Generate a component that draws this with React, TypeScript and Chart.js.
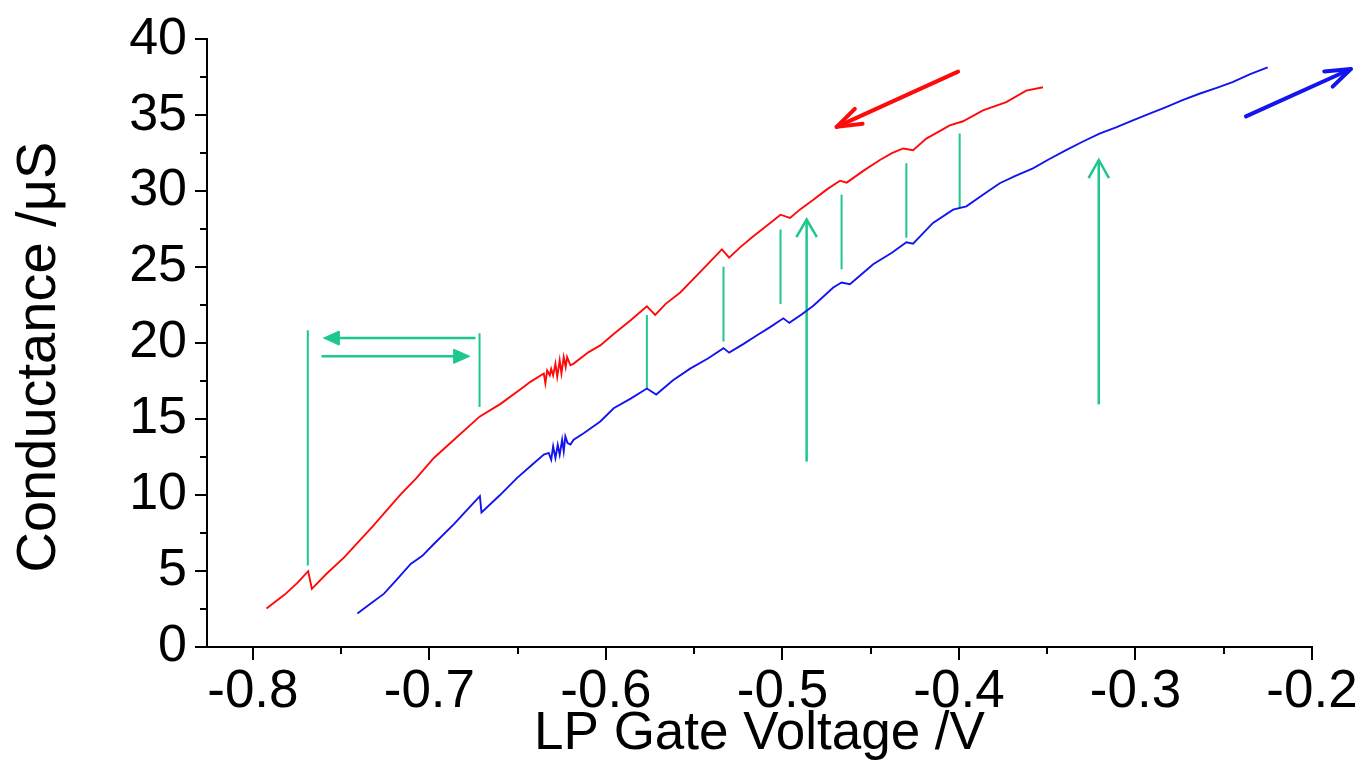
import React, { useEffect, useRef } from "react";
import { Chart, registerables } from "chart.js";
Chart.register(...registerables);

// ---- axis ranges / ticks ----
const xMin = -0.826;
const xMax = -0.2;
const yMin = 0;
const yMax = 40;
const xMinorTicks = [-0.75, -0.65, -0.55, -0.45, -0.35, -0.25];
const yMinorTicks = [2.5, 7.5, 12.5, 17.5, 22.5, 27.5, 32.5, 37.5];

// ---- red sweep (decreasing gate voltage) ----
const redV = [
  -0.7923, -0.782, -0.7745, -0.7687, -0.7666, -0.758, -0.7483, -0.732, -0.7163, -0.7075,
  -0.6975, -0.685, -0.6716, -0.6597, -0.648, -0.6428, -0.6352, -0.6343, -0.6333, -0.6318,
  -0.631, -0.6299, -0.6286, -0.6276, -0.6262, -0.6252, -0.6239, -0.6228, -0.622, -0.6201,
  -0.6183, -0.6098, -0.6032, -0.5956, -0.586, -0.5768, -0.5721, -0.566, -0.5579, -0.546,
  -0.5343, -0.5302, -0.524, -0.5165, -0.508, -0.5011, -0.4957, -0.49, -0.4825, -0.475,
  -0.4674, -0.4636, -0.454, -0.4448, -0.438, -0.4316, -0.426, -0.4185, -0.4052, -0.3977,
  -0.3864, -0.3732, -0.3619, -0.3524,
];
const redG = [
  2.53, 3.45, 4.25, 4.99, 3.83, 4.85, 5.9, 7.95, 10.04, 11.1,
  12.44, 13.75, 15.16, 16.0, 17.0, 17.45, 18.0, 17.35, 18.2, 17.88,
  18.3, 17.88, 18.65, 17.78, 18.87, 18.0, 19.08, 18.43, 19.08, 18.54,
  18.65, 19.41, 19.85, 20.6, 21.5, 22.42, 21.85, 22.6, 23.33, 24.75,
  26.17, 25.62, 26.3, 27.03, 27.8, 28.45, 28.24, 28.8, 29.43, 30.1,
  30.69, 30.56, 31.35, 32.05, 32.5, 32.81, 32.7, 33.46, 34.33, 34.6,
  35.31, 35.86, 36.62, 36.84,
];

// ---- blue sweep (increasing gate voltage) ----
const blueV = [
  -0.7408, -0.734, -0.7257, -0.718, -0.7106, -0.704, -0.6975, -0.6861, -0.678, -0.6714,
  -0.6705, -0.66, -0.6503, -0.6428, -0.6352, -0.6324, -0.631, -0.6299, -0.6286, -0.6273,
  -0.6262, -0.6248, -0.6239, -0.623, -0.6217, -0.6201, -0.6183, -0.6126, -0.6032, -0.5956,
  -0.586, -0.5768, -0.5715, -0.562, -0.5523, -0.542, -0.5334, -0.5302, -0.522, -0.5146,
  -0.507, -0.4995, -0.4961, -0.489, -0.4825, -0.4712, -0.4665, -0.4618, -0.455, -0.4486,
  -0.438, -0.4298, -0.426, -0.4147, -0.4033, -0.3958, -0.386, -0.3769, -0.368, -0.3581,
  -0.349, -0.3393, -0.33, -0.3204, -0.311, -0.3015, -0.292, -0.2827, -0.273, -0.2638,
  -0.254, -0.245, -0.235, -0.2251,
];
const blueG = [
  2.2, 2.8, 3.51, 4.5, 5.47, 6.0, 6.78, 8.09, 9.1, 9.93,
  8.85, 10.0, 11.13, 11.9, 12.66, 12.77, 12.33, 13.2, 12.44, 13.3,
  12.66, 13.64, 12.88, 13.86, 13.42, 13.32, 13.64, 14.07, 14.84, 15.71,
  16.35, 17.01, 16.62, 17.55, 18.32, 19.0, 19.67, 19.37, 19.95, 20.5,
  21.05, 21.63, 21.33, 21.9, 22.46, 23.66, 23.99, 23.88, 24.55, 25.19,
  25.95, 26.64, 26.54, 27.91, 28.78, 29.0, 29.8, 30.52, 31.0, 31.5,
  32.1, 32.7, 33.25, 33.79, 34.2, 34.66, 35.1, 35.53, 36.0, 36.41,
  36.8, 37.17, 37.7, 38.15,
];

// ---- green vertical markers ----
const markerV = [-0.7689, -0.6716, -0.5768, -0.5334, -0.5011, -0.4665, -0.4298, -0.3996];
const markerTop = [20.85, 20.65, 21.85, 25.03, 27.47, 29.76, 31.83, 33.79];
const markerBottom = [5.36, 15.8, 17.01, 20.11, 22.57, 24.86, 26.93, 28.89];

// ---- green horizontal arrows (filled heads) ----
const hArrowFromV = [-0.6739, -0.7611];
const hArrowToV = [-0.76, -0.6771];
const hArrowG = [20.33, 19.13];
const hArrowBaseV = [-0.7512, -0.6861];
const hArrowHalf = [0.46, 0.46];

// ---- green upward arrows (open heads) ----
const upArrowV = [-0.4863, -0.3208];
const upArrowFrom = [12.2, 15.97];
const upArrowTo = [28.13, 32.05];
const upArrowWingDV = [0.0058, 0.0058];
const upArrowWingDG = [1.16, 1.2];

// ---- sweep direction arrows ----
const redArrowV = [-0.4005, -0.4693];
const redArrowG = [37.87, 34.23];
const redArrowWingV = [-0.459, -0.4546];
const redArrowWingG = [35.42, 34.44];
const blueArrowV = [-0.2374, -0.178];
const blueArrowG = [34.92, 38.04];
const blueArrowWingV = [-0.1931, -0.1883];
const blueArrowWingG = [37.88, 36.88];

const GREEN = "rgb(30,200,140)";
const RED = "#ff0a0a";
const BLUE = "#1414ee";

const zip = (xs: number[], ys: number[]) => xs.map((x, i) => ({ x, y: ys[i] }));

const seg = (pts: { x: number; y: number }[], color: string, width: number, extra: any = {}) => ({
  data: pts,
  borderColor: color,
  backgroundColor: color,
  borderWidth: width,
  pointRadius: 0,
  tension: 0,
  fill: false,
  clip: false,
  ...extra,
});

const minorTicksPlugin = {
  id: "minorTicks",
  afterDraw(chart: any) {
    const { ctx, scales, chartArea } = chart;
    const x = scales.x;
    const y = scales.y;
    ctx.save();
    ctx.strokeStyle = "#000";
    ctx.lineWidth = 2;
    xMinorTicks.forEach((v) => {
      const px = Math.round(x.getPixelForValue(v));
      ctx.beginPath();
      ctx.moveTo(px, chartArea.bottom);
      ctx.lineTo(px, chartArea.bottom + 7);
      ctx.stroke();
    });
    yMinorTicks.forEach((v) => {
      const py = Math.round(y.getPixelForValue(v));
      ctx.beginPath();
      ctx.moveTo(chartArea.left, py);
      ctx.lineTo(chartArea.left - 7, py);
      ctx.stroke();
    });
    ctx.restore();
  },
};

export default function App() {
  const ref = useRef<HTMLCanvasElement | null>(null);

  useEffect(() => {
    if (!ref.current) return;
    const datasets: any[] = [];

    datasets.push(seg(zip(redV, redG), RED, 1.9));
    datasets.push(seg(zip(blueV, blueG), BLUE, 1.9));

    markerV.forEach((v, i) => {
      datasets.push(seg([{ x: v, y: markerTop[i] }, { x: v, y: markerBottom[i] }], GREEN, 2));
    });

    hArrowFromV.forEach((v, i) => {
      datasets.push(seg([{ x: v, y: hArrowG[i] }, { x: hArrowBaseV[i], y: hArrowG[i] }], GREEN, 2.5));
      datasets.push(
        seg(
          [
            { x: hArrowToV[i], y: hArrowG[i] },
            { x: hArrowBaseV[i], y: hArrowG[i] + hArrowHalf[i] },
            { x: hArrowBaseV[i], y: hArrowG[i] - hArrowHalf[i] },
            { x: hArrowToV[i], y: hArrowG[i] },
          ],
          GREEN,
          1,
          { fill: "shape" }
        )
      );
    });

    upArrowV.forEach((v, i) => {
      datasets.push(seg([{ x: v, y: upArrowFrom[i] }, { x: v, y: upArrowTo[i] }], GREEN, 2.5));
      datasets.push(
        seg(
          [
            { x: v - upArrowWingDV[i], y: upArrowTo[i] - upArrowWingDG[i] },
            { x: v, y: upArrowTo[i] },
            { x: v + upArrowWingDV[i], y: upArrowTo[i] - upArrowWingDG[i] },
          ],
          GREEN,
          2.5
        )
      );
    });

    datasets.push(seg(zip(redArrowV, redArrowG), RED, 4, { borderCapStyle: "round" }));
    datasets.push(
      seg(
        [
          { x: redArrowWingV[0], y: redArrowWingG[0] },
          { x: redArrowV[1], y: redArrowG[1] },
          { x: redArrowWingV[1], y: redArrowWingG[1] },
        ],
        RED,
        4,
        { borderCapStyle: "round", borderJoinStyle: "round" }
      )
    );
    datasets.push(seg(zip(blueArrowV, blueArrowG), BLUE, 4, { borderCapStyle: "round" }));
    datasets.push(
      seg(
        [
          { x: blueArrowWingV[0], y: blueArrowWingG[0] },
          { x: blueArrowV[1], y: blueArrowG[1] },
          { x: blueArrowWingV[1], y: blueArrowWingG[1] },
        ],
        BLUE,
        4,
        { borderCapStyle: "round", borderJoinStyle: "round" }
      )
    );

    const font = "'Liberation Sans', Arial, Helvetica, sans-serif";

    const chart = new Chart(ref.current, {
      type: "line",
      data: { datasets },
      plugins: [minorTicksPlugin],
      options: {
        animation: false,
        responsive: false,
        layout: { padding: { top: 35, right: 54, left: 0, bottom: 0 } },
        plugins: { legend: { display: false }, tooltip: { enabled: false } },
        scales: {
          x: {
            type: "linear",
            min: xMin,
            max: xMax,
            afterFit: (s: any) => {
              s.height = 133;
            },
            grid: {
              display: true,
              drawOnChartArea: false,
              drawTicks: true,
              tickLength: 13,
              color: "#000",
              lineWidth: 2,
            },
            border: { display: true, color: "#000", width: 2 },
            ticks: {
              stepSize: 0.1,
              includeBounds: false,
              padding: 1,
              color: "#000",
              font: { family: font, size: 53 },
              maxRotation: 0,
              autoSkip: false,
              callback: (v: any) => Number(v).toFixed(1),
            },
            title: {
              display: true,
              text: "LP Gate Voltage /V",
              color: "#000",
              font: { family: font, size: 53 },
              padding: { top: 0, bottom: 14 },
            },
          },
          y: {
            type: "linear",
            min: yMin,
            max: yMax,
            afterFit: (s: any) => {
              s.width = 207;
            },
            grid: {
              display: true,
              drawOnChartArea: false,
              drawTicks: true,
              tickLength: 12,
              color: "#000",
              lineWidth: 2,
            },
            border: { display: true, color: "#000", width: 2 },
            ticks: {
              stepSize: 5,
              padding: 8,
              color: "#000",
              font: { family: font, size: 52 },
              autoSkip: false,
              callback: (v: any) => String(v),
            },
            title: {
              display: true,
              text: "Conductance /μS\u2002",
              color: "#000",
              font: { family: font, size: 56 },
              padding: { top: 6, bottom: 0 },
            },
          },
        },
      },
    });
    return () => chart.destroy();
  }, []);

  return (
    <div style={{ position: "fixed", left: 0, top: 0, width: 1366, height: 780, background: "#fff" }}>
      <canvas ref={ref} width={1366} height={780} style={{ display: "block" }} />
    </div>
  );
}
